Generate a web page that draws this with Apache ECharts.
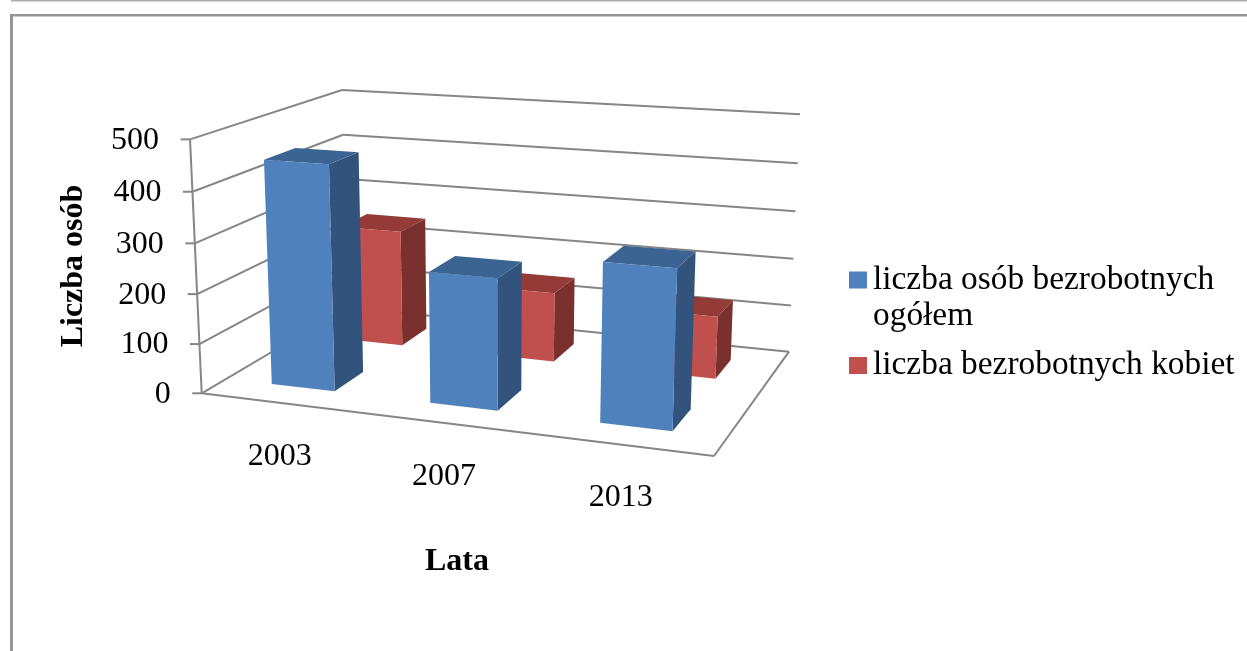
<!DOCTYPE html>
<html>
<head>
<meta charset="utf-8">
<style>html,body{margin:0;padding:0;background:#fff}#c{width:1247px;height:651px;filter:blur(0.5px)}</style>
<script src="https://cdn.jsdelivr.net/npm/echarts@6/dist/echarts.min.js"></script>
</head>
<body>
<div id="c"></div>
<script>
const years = ['2003', '2007', '2013'];
const totalName = 'liczba osób bezrobotnych ogółem';
const womenName = 'liczba bezrobotnych kobiet';
const totalValues = [450, 258, 306];
const womenValues = [247, 145, 128];
const yTicks = [0, 100, 200, 300, 400, 500];

const FONT = '"Liberation Serif", "Times New Roman", serif';
const GRID = {left: 200, top: 139, width: 514, height: 254};

// Projection of the chart box (u along years, d into depth, h up) to the screen
const FL = [201.7, 393.3], FR = [714, 456], BR = [789, 351.7], BL = [347, 307.5];
const VP = [493, 6735], S = -0.0385;
const den = (FR[0]-BR[0])*(BL[1]-BR[1]) - (BL[0]-BR[0])*(FR[1]-BR[1]);
const sx = FL[0]-FR[0]+BR[0]-BL[0], sy = FL[1]-FR[1]+BR[1]-BL[1];
const g = (sx*(BL[1]-BR[1]) - (BL[0]-BR[0])*sy)/den;
const k = ((FR[0]-BR[0])*sy - sx*(FR[1]-BR[1]))/den;
function project(u, d, h) {
  const w = 1 + g*u + k*d;
  const X = FL[0] + (FR[0]-FL[0]+g*FR[0])*u + (BL[0]-FL[0]+k*BL[0])*d;
  const Y = FL[1] + (FR[1]-FL[1]+g*FR[1])*u + (BL[1]-FL[1]+k*BL[1])*d;
  return [(X + h*S*VP[0])/(w + h*S), (Y + h*S*VP[1])/(w + h*S)];
}
function normH(api, v) {
  const p = api.coord([0, v]);
  return (GRID.top + GRID.height - p[1]) / GRID.height;
}
function normU(api, i) {
  const p = api.coord([i, 0]);
  return (p[0] - GRID.left) / GRID.width;
}
const LINE = {stroke: '#868686', lineWidth: 2, fill: null};
const seg = (a, b) => ({type: 'line', shape: {x1: a[0], y1: a[1], x2: b[0], y2: b[1]}, style: LINE});

function barRenderer(d0, d1, cols) {
  return function (params, api) {
    const i = api.value(0), v = api.value(1);
    const c = normU(api, i), hw = 0.0675, h = normH(api, v);
    const P = (u, d, z) => project(u, d, z);
    const poly = (pts, fill) => ({type: 'polygon', shape: {points: pts}, style: {fill: fill}});
    return {type: 'group', children: [
      poly([P(c+hw,d0,0), P(c+hw,d1,0), P(c+hw,d1,h), P(c+hw,d0,h)], cols.side),
      poly([P(c-hw,d0,h), P(c+hw,d0,h), P(c+hw,d1,h), P(c-hw,d1,h)], cols.top),
      poly([P(c-hw,d0,0), P(c+hw,d0,0), P(c+hw,d0,h), P(c-hw,d0,h)], cols.front)
    ]};
  };
}
function wallRenderer(params, api) {
  const v = api.value(1), h = normH(api, v);
  const a = project(0, 0, h), b = project(0, 1, h), c = project(1, 1, h);
  const kids = [
    seg(a, b), seg(b, c),
    seg([a[0]-9.5, a[1]], a),
    {type: 'text', style: {text: String(v), x: a[0]-31, y: a[1]+1, align: 'right', verticalAlign: 'middle',
      font: '32px ' + FONT, fill: '#000'}}
  ];
  if (v === yTicks[yTicks.length-1]) {
    kids.push(seg(project(0,0,0), a), seg(project(1,0,0), project(1,1,0)), seg(project(0,0,0), project(1,0,0)));
  }
  return {type: 'group', children: kids};
}
function yearRenderer(params, api) {
  const i = api.value(0), u = normU(api, i), p = project(u, 0, 0);
  return {type: 'text', style: {text: years[i], x: p[0], y: p[1]+53.5, align: 'center', verticalAlign: 'middle',
    font: '32px ' + FONT, fill: '#000'}};
}

const chart = echarts.init(document.getElementById('c'), null, {renderer: 'canvas'});
chart.setOption({
  animation: false,
  backgroundColor: '#fff',
  grid: GRID,
  xAxis: {type: 'category', data: years, axisLine: {show: false}, axisTick: {show: false},
    axisLabel: {show: false}, splitLine: {show: false},
    name: 'Lata', nameLocation: 'middle', nameGap: 153,
    nameTextStyle: {fontFamily: FONT, fontSize: 32, fontWeight: 'bold', color: '#000'}},
  yAxis: {type: 'value', min: 0, max: 500, interval: 100, axisLine: {show: false}, axisTick: {show: false},
    axisLabel: {show: false}, splitLine: {show: false},
    name: 'Liczba osób', nameLocation: 'middle', nameGap: 110,
    nameTextStyle: {fontFamily: FONT, fontSize: 32, fontWeight: 'bold', color: '#000'}},
  legend: {
    orient: 'vertical', left: 849, top: 223, padding: 0, itemWidth: 18, itemHeight: 17, itemGap: 7.5, selectedMode: false,
    data: [{name: totalName, icon: 'rect'}, {name: womenName, icon: 'rect'}],
    formatter: n => n === totalName ? '\nliczba osób bezrobotnych\nogółem' : n,
    textStyle: {fontFamily: FONT, fontSize: 33.4, lineHeight: 36, color: '#000', padding: [6, 0, 0, 1]}
  },
  graphic: [
    {type: 'rect', silent: true, shape: {x: 11, y: 0, width: 1236, height: 1.5}, style: {fill: '#ababab'}},
    {type: 'rect', silent: true, shape: {x: 10, y: 14, width: 1237, height: 2.6}, style: {fill: '#969696'}},
    {type: 'rect', silent: true, shape: {x: 10, y: 14, width: 3, height: 637}, style: {fill: '#969696'}}
  ],
  series: [
    {type: 'custom', name: 'siatka', z: 1, silent: true, encode: {x: 0, y: 1},
      data: yTicks.map(v => [0, v]), renderItem: wallRenderer},
    {type: 'custom', name: 'lata', z: 1, silent: true, encode: {x: 0, y: 1},
      data: years.map((y, i) => [i, 0]), renderItem: yearRenderer},
    {type: 'custom', name: womenName, z: 2, encode: {x: 0, y: 1}, itemStyle: {color: '#C0504D'},
      data: womenValues.map((v, i) => [i, v]),
      renderItem: barRenderer(0.65, 0.85, {front: '#C0504D', side: '#7A302D', top: '#943A37'})},
    {type: 'custom', name: totalName, z: 3, encode: {x: 0, y: 1}, itemStyle: {color: '#4F81BD'},
      data: totalValues.map((v, i) => [i, v]),
      renderItem: barRenderer(0.15, 0.35, {front: '#4F81BD', side: '#31537C', top: '#3C6492'})}
  ]
});
</script>
</body>
</html>
